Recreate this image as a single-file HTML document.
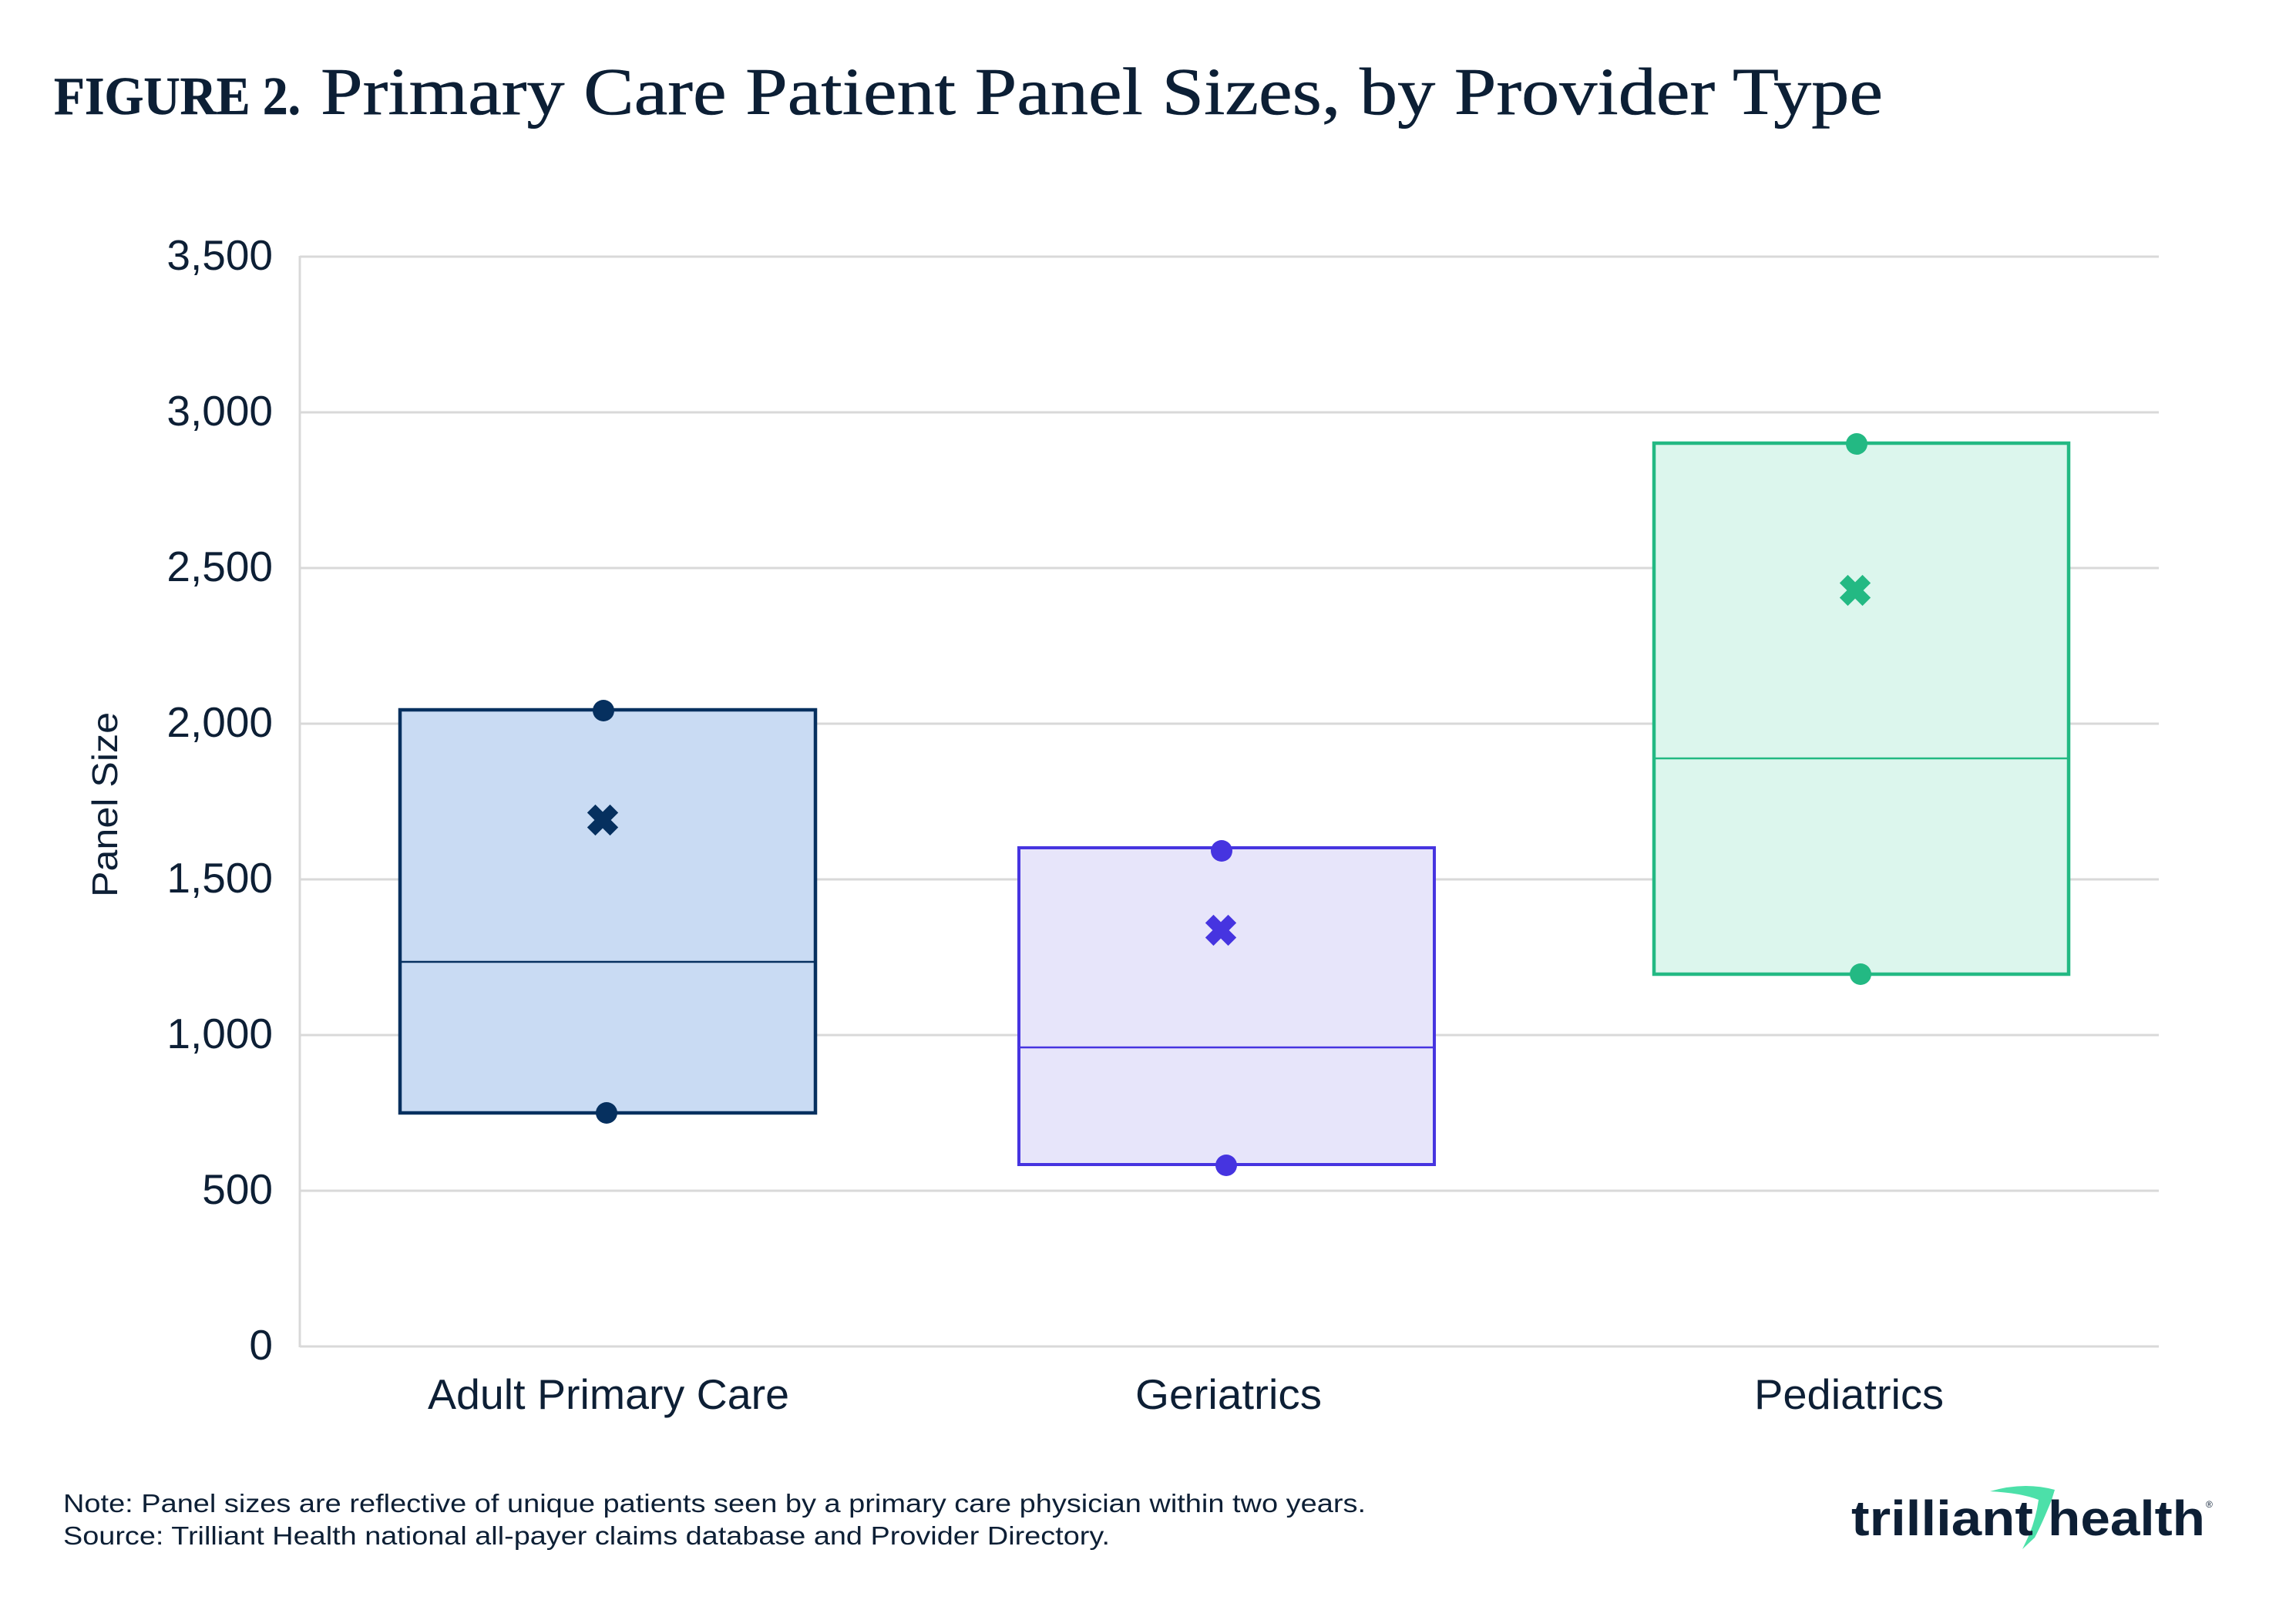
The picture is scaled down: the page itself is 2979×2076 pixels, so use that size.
<!DOCTYPE html>
<html>
<head>
<meta charset="utf-8">
<style>
  html, body { margin:0; padding:0; background:#ffffff; }
  svg { display:block; }
</style>
</head>
<body>
<svg xmlns="http://www.w3.org/2000/svg" width="2979" height="2076" viewBox="0 0 2979 2076">
  <rect x="0" y="0" width="2979" height="2076" fill="#ffffff"/>

  <!-- Title -->
  <text x="70" y="148" font-family="Liberation Serif, serif" font-weight="bold" font-size="70" fill="#0c1f35" stroke="#0c1f35" stroke-width="0.6" textLength="320" lengthAdjust="spacingAndGlyphs">FIGURE 2.</text>
  <text x="416" y="148" font-family="Liberation Serif, serif" font-size="87" fill="#0c1f35" stroke="#0c1f35" stroke-width="0.6" textLength="2027" lengthAdjust="spacingAndGlyphs">Primary Care Patient Panel Sizes, by Provider Type</text>

  <!-- Gridlines -->
  <g stroke="#d9d9d9" stroke-width="3">
    <line x1="389" y1="333" x2="2801" y2="333"/>
    <line x1="389" y1="535" x2="2801" y2="535"/>
    <line x1="389" y1="737" x2="2801" y2="737"/>
    <line x1="389" y1="939" x2="2801" y2="939"/>
    <line x1="389" y1="1141" x2="2801" y2="1141"/>
    <line x1="389" y1="1343" x2="2801" y2="1343"/>
    <line x1="389" y1="1545" x2="2801" y2="1545"/>
    <line x1="389" y1="1747" x2="2801" y2="1747"/>
    <line x1="389" y1="332" x2="389" y2="1748"/>
  </g>

  <!-- Y tick labels -->
  <g font-family="Liberation Sans, sans-serif" font-size="55" fill="#0d1f35" text-anchor="end">
    <text x="354" y="350">3,500</text>
    <text x="354" y="552">3,000</text>
    <text x="354" y="754">2,500</text>
    <text x="354" y="956">2,000</text>
    <text x="354" y="1158">1,500</text>
    <text x="354" y="1360">1,000</text>
    <text x="354" y="1562">500</text>
    <text x="354" y="1764">0</text>
  </g>

  <!-- Y axis title -->
  <text transform="translate(152,1044) rotate(-90)" font-family="Liberation Sans, sans-serif" font-size="46" fill="#0d1f35" text-anchor="middle" textLength="240" lengthAdjust="spacingAndGlyphs">Panel Size</text>

  <!-- Box 1: Adult Primary Care -->
  <rect x="519" y="921" width="539" height="523" fill="#c9dbf3" stroke="#06305f" stroke-width="4.5"/>
  <line x1="519" y1="1248" x2="1058" y2="1248" stroke="#06305f" stroke-width="2.5"/>
  <circle cx="783" cy="922" r="14" fill="#06305f"/>
  <circle cx="787" cy="1444" r="14" fill="#06305f"/>
  <g transform="translate(782,1064) rotate(45)" fill="#06305f">
    <polygon points="-7.5,-21 7.5,-21 7.5,-7.5 21,-7.5 21,7.5 7.5,7.5 7.5,21 -7.5,21 -7.5,7.5 -21,7.5 -21,-7.5 -7.5,-7.5"/>
  </g>

  <!-- Box 2: Geriatrics -->
  <rect x="1322" y="1100" width="539" height="411" fill="#e7e5fa" stroke="#4634e0" stroke-width="4"/>
  <line x1="1322" y1="1359" x2="1861" y2="1359" stroke="#4634e0" stroke-width="2.5"/>
  <circle cx="1585" cy="1104" r="14" fill="#4634e0"/>
  <circle cx="1591" cy="1512" r="14" fill="#4634e0"/>
  <g transform="translate(1584,1207) rotate(45)" fill="#4634e0">
    <polygon points="-7.5,-21 7.5,-21 7.5,-7.5 21,-7.5 21,7.5 7.5,7.5 7.5,21 -7.5,21 -7.5,7.5 -21,7.5 -21,-7.5 -7.5,-7.5"/>
  </g>

  <!-- Box 3: Pediatrics -->
  <rect x="2146" y="575" width="538" height="689" fill="#dcf6ed" stroke="#23b983" stroke-width="4.5"/>
  <line x1="2146" y1="984" x2="2684" y2="984" stroke="#23b983" stroke-width="2.5"/>
  <circle cx="2409" cy="576" r="14" fill="#23b983"/>
  <circle cx="2414" cy="1264" r="14" fill="#23b983"/>
  <g transform="translate(2407,766) rotate(45)" fill="#23b983">
    <polygon points="-7.5,-21 7.5,-21 7.5,-7.5 21,-7.5 21,7.5 7.5,7.5 7.5,21 -7.5,21 -7.5,7.5 -21,7.5 -21,-7.5 -7.5,-7.5"/>
  </g>

  <!-- X labels -->
  <g font-family="Liberation Sans, sans-serif" font-size="55" fill="#0d1f35">
    <text x="555" y="1828" textLength="469" lengthAdjust="spacingAndGlyphs">Adult Primary Care</text>
    <text x="1473" y="1828" textLength="242" lengthAdjust="spacingAndGlyphs">Geriatrics</text>
    <text x="2276" y="1828" textLength="246" lengthAdjust="spacingAndGlyphs">Pediatrics</text>
  </g>

  <!-- Footer -->
  <g font-family="Liberation Sans, sans-serif" font-size="33" fill="#0d1f35">
    <text x="82" y="1962" textLength="1690" lengthAdjust="spacingAndGlyphs">Note: Panel sizes are reflective of unique patients seen by a primary care physician within two years.</text>
    <text x="82" y="2004" textLength="1358" lengthAdjust="spacingAndGlyphs">Source: Trilliant Health national all-payer claims database and Provider Directory.</text>
  </g>

  <!-- Logo -->
  <path d="M2582,1935 Q2626,1922 2666,1933 L2662,1946 Q2650,1976 2640,1995 L2624,2010 L2633,1991 Q2642,1968 2645,1946 Q2622,1937 2582,1935 Z" fill="#4ce0a9"/>
  <text x="2402" y="1992" font-family="Liberation Sans, sans-serif" font-weight="bold" font-size="64" fill="#0d1f35" textLength="236" lengthAdjust="spacingAndGlyphs">trilliant</text>
  <text x="2657" y="1992" font-family="Liberation Sans, sans-serif" font-weight="bold" font-size="64" fill="#0d1f35" textLength="204" lengthAdjust="spacingAndGlyphs">health</text>
  <text x="2862" y="1956" font-family="Liberation Sans, sans-serif" font-size="12" fill="#0d1f35">®</text>
</svg>
</body>
</html>
